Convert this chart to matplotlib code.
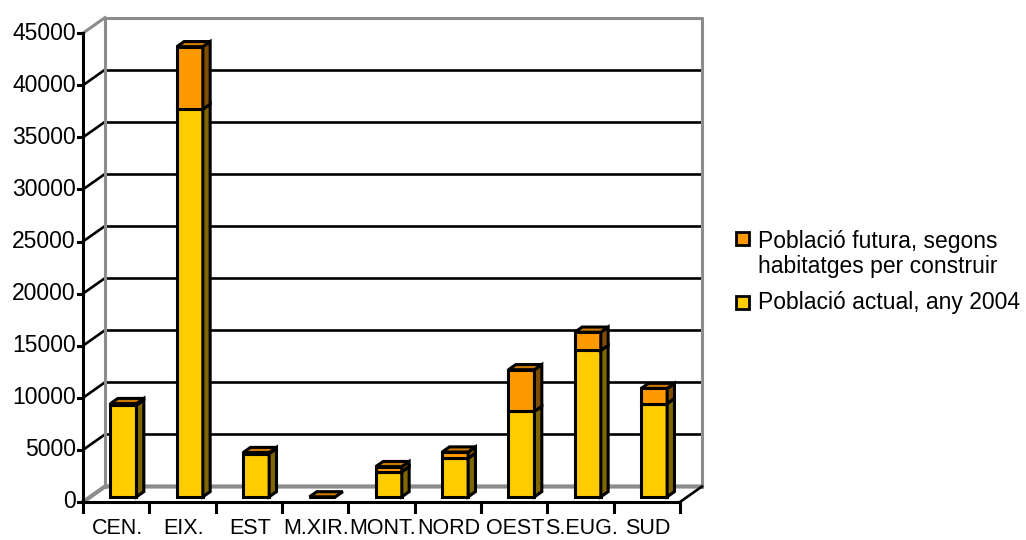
import numpy as np
import matplotlib.pyplot as plt
from matplotlib.patches import Polygon, Rectangle

plt.rcParams['font.family'] = ['Liberation Sans', 'DejaVu Sans']

categories = ["CEN.", "EIX.", "EST", "M.XIR.", "MONT.", "NORD", "OEST", "S.EUG.", "SUD"]
actual_2004 = [8800, 37200, 4150, 0, 2400, 3700, 8200, 14050, 8950]
future = [150, 6000, 100, 0, 500, 600, 4000, 1750, 1450]
y_ticks = [0, 5000, 10000, 15000, 20000, 25000, 30000, 35000, 40000, 45000]
legend_labels = ["Població futura, segons\nhabitatges per construir",
                 "Població actual, any 2004"]

yellow, yellow_side = "#FFCC00", "#806600"
orange, orange_side, orange_top = "#FF9900", "#804D00", "#CC7A00"
gray = "#8C8C8C"

# pixel calibration of the fake 3d box
px_cat = 66.33
px_val = 0.01042
fig = plt.figure(figsize=(10.26, 5.4), dpi=100)
ax = fig.add_axes([0, 0, 1, 1])
ax.set_xlim(-83 / px_cat, (1026 - 83) / px_cat)
ax.set_ylim(-(540 - 502) / px_val, 502 / px_val)
ax.axis("off")

n = len(categories)
ymax = y_ticks[-1]
DX = 22 / px_cat
DY = 15.5 / px_val

# back wall and grid
ax.add_patch(Polygon([(DX, DY), (n + DX, DY), (n + DX, ymax + DY), (DX, ymax + DY)],
                     closed=True, fc="white", ec="none", zorder=0))
for v in y_ticks[1:-1]:
    ax.plot([DX, n + DX], [v + DY, v + DY], color="black", lw=1.9, zorder=1)
    ax.plot([0, DX], [v, v + DY], color="black", lw=1.9, zorder=1)
ax.plot([DX, DX, n + DX, n + DX], [DY, ymax + DY, ymax + DY, DY], color=gray, lw=2.2, zorder=1)
ax.plot([0, DX], [ymax, ymax + DY], color=gray, lw=2.2, zorder=1)
ax.plot([0, DX, n + DX], [0, DY, DY], color=gray, lw=3, zorder=1)
ax.plot([n, n + DX], [0, DY], color="black", lw=1.9, zorder=1)
ax.plot([0, n], [0, 0], color="black", lw=2.2, zorder=1)
ax.plot([0, 0], [0, ymax], color="black", lw=2.2, zorder=1)

# axis ticks and labels
for v in y_ticks:
    ax.plot([-0.075, 0], [v, v], color="black", lw=2.2)
    ax.text(-0.11, v, str(v), ha="right", va="center", fontsize=16.5)
for i in range(n + 1):
    ax.plot([i, i], [0, -10 / px_val], color="black", lw=2.2)
for i, lab in enumerate(categories):
    ax.text(i + 0.52, -27 / px_val, lab, ha="center", va="center", fontsize=15.5)

# bars
w = 0.392
ddx, ddy = DX / 3, DY / 3
cx = np.arange(n) + 0.5 + ddx
actual = np.array(actual_2004)
fut = np.array(future)
ax.bar(cx, actual, width=w, bottom=ddy, color=yellow, edgecolor="black", lw=2.2, zorder=3)
ax.bar(cx, fut, width=w, bottom=ddy + actual, color=orange, edgecolor="black", lw=2.2, zorder=3)

for i in range(n):
    x0, x1 = cx[i] - w / 2, cx[i] + w / 2
    segs = [(0, actual[i], yellow_side), (actual[i], actual[i] + fut[i], orange_side)]
    for b, t, col in segs:
        if t > b:
            ax.add_patch(Polygon([(x1, b + ddy), (x1 + ddx, b + 2 * ddy),
                                  (x1 + ddx, t + 2 * ddy), (x1, t + ddy)],
                                 closed=True, fc=col, ec="black", lw=2.2, zorder=3))
    top = actual[i] + fut[i]
    ax.add_patch(Polygon([(x0, top + ddy), (x1, top + ddy),
                          (x1 + ddx, top + 2 * ddy), (x0 + ddx, top + 2 * ddy)],
                         closed=True, fc=orange_top, ec="black", lw=2.2, zorder=3))

# legend
W, H = 1026, 540
for (y_sq, col) in [(232, orange), (296, yellow)]:
    fig.patches.append(Rectangle((736 / W, 1 - (y_sq + 13) / H), 13 / W, 13 / H,
                                 transform=fig.transFigure, fc=col, ec="black", lw=2))
fig.text(758 / W, 1 - 254 / H, legend_labels[0], ha="left", va="center", fontsize=16.5,
         linespacing=1.15)
fig.text(758 / W, 1 - 302 / H, legend_labels[1], ha="left", va="center", fontsize=16.5)

fig.savefig("out.png", dpi=100)
